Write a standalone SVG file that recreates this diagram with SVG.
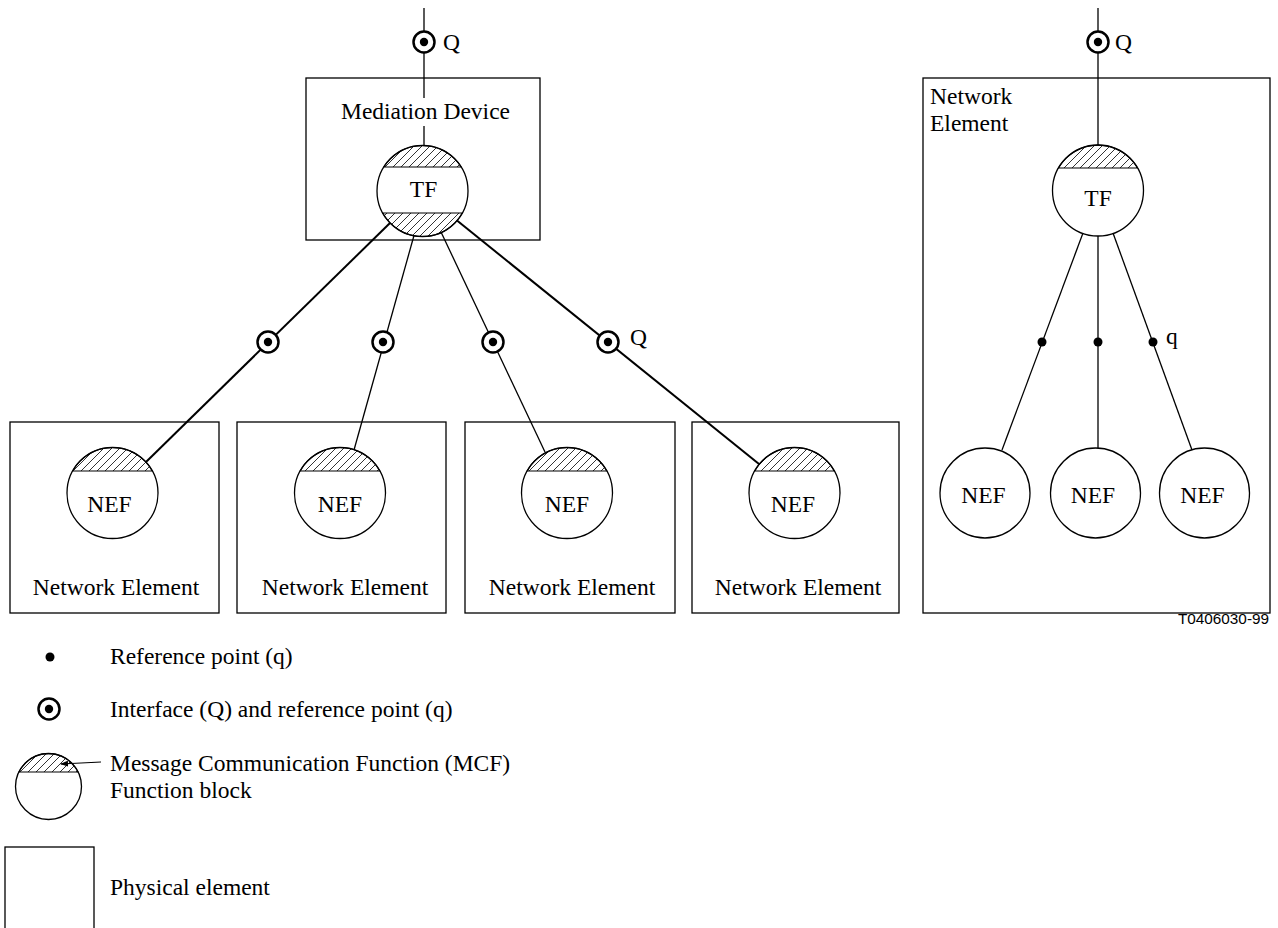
<svg xmlns="http://www.w3.org/2000/svg" width="1278" height="928" viewBox="0 0 1278 928">
  <style>
    .box { fill: none; stroke: #000; stroke-width: 1.3; }
    .fb { fill: #fff; stroke: #000; stroke-width: 1.3; }
    .mcf { fill: url(#hatch); stroke: #000; stroke-width: 1.1; }
    .lnk { fill: none; stroke: #000; stroke-width: 1.3; }
    .lnk2 { fill: none; stroke: #000; stroke-width: 2; }
    .lbl { font-family: "Liberation Serif", "Times New Roman", serif; font-size: 23.5px; fill: #000; }
    .mid { text-anchor: middle; }
    .code { font-family: "Liberation Sans", Arial, sans-serif; font-size: 15.3px; fill: #000; text-anchor: end; }
  </style>
  <defs>
    <pattern id="hatch" patternUnits="userSpaceOnUse" width="8" height="8">
      <path d="M-2,2 L2,-2 M0,8 L8,0 M6,10 L10,6" stroke="#000" stroke-width="0.8"/>
    </pattern>
    <!-- interface Q with reference point q -->
    <g id="iface">
      <circle r="10.5" fill="#fff" stroke="#000" stroke-width="2.5"/>
      <circle r="4.2" fill="#000"/>
    </g>
    <!-- reference point q -->
    <circle id="refpt" r="4.5" fill="#000"/>
    <marker id="tip" markerWidth="8" markerHeight="6" refX="1" refY="3" orient="auto" markerUnits="userSpaceOnUse">
      <path d="M8,0 L0,3 L8,6 Z" fill="#000"/>
    </marker>
  </defs>

  <rect width="1278" height="928" fill="#fff"/>

  <!-- connectors -->
  <g id="connectors">
    <line class="lnk" x1="424" y1="8" x2="424" y2="98"/>
    <line class="lnk" x1="424" y1="126" x2="424" y2="145.5"/>
    <line class="lnk2" x1="390" y1="223" x2="146" y2="462"/>
    <line class="lnk" x1="414" y1="235.5" x2="354" y2="450"/>
    <line class="lnk" x1="441" y1="232" x2="545" y2="452"/>
    <line class="lnk2" x1="457" y1="220.5" x2="759" y2="464"/>
    <line class="lnk" x1="1098" y1="8" x2="1098" y2="145"/>
    <line class="lnk" x1="1083" y1="233" x2="1002" y2="450"/>
    <line class="lnk" x1="1098" y1="236" x2="1098" y2="448"/>
    <line class="lnk" x1="1113" y1="233" x2="1192" y2="450"/>
  </g>

  <!-- interface and reference point symbols -->
  <g id="points">
    <use href="#iface" x="424" y="42"/>
    <use href="#iface" x="1098" y="42"/>
    <use href="#iface" x="268" y="342"/>
    <use href="#iface" x="383" y="342"/>
    <use href="#iface" x="493" y="342"/>
    <use href="#iface" x="608" y="342"/>
    <use href="#refpt" x="1042" y="342"/>
    <use href="#refpt" x="1098" y="342"/>
    <use href="#refpt" x="1153" y="342"/>
    <text class="lbl" x="443" y="50">Q</text>
    <text class="lbl" x="1115" y="50">Q</text>
    <text class="lbl" x="630" y="345">Q</text>
    <text class="lbl" x="1166" y="344">q</text>
  </g>

  <!-- mediation device -->
  <g id="mediation-device">
    <rect class="box" x="306" y="78" width="234" height="162"/>
    <text class="lbl mid" x="425.5" y="119">Mediation Device</text>
    <circle class="fb" cx="422.5" cy="191" r="45.5"/>
    <path class="mcf" d="M383.85,167 A45.5,45.5 0 0 1 461.15,167 Z"/>
    <path class="mcf" d="M382.7,213 A45.5,45.5 0 0 0 462.3,213 Z"/>
    <text class="lbl mid" x="423.5" y="197">TF</text>
  </g>

  <!-- network elements below the mediation device -->
  <g id="ne-1">
    <rect class="box" x="10" y="422" width="209" height="191"/>
    <circle class="fb" cx="112.5" cy="493" r="45.5"/>
    <path class="mcf" d="M72.7,471 A45.5,45.5 0 0 1 152.3,471 Z"/>
    <text class="lbl mid" x="109.5" y="512">NEF</text>
    <text class="lbl mid" x="116" y="595">Network Element</text>
  </g>
  <g id="ne-2">
    <rect class="box" x="237" y="422" width="209" height="191"/>
    <circle class="fb" cx="340" cy="493" r="45.5"/>
    <path class="mcf" d="M300.2,471 A45.5,45.5 0 0 1 379.8,471 Z"/>
    <text class="lbl mid" x="340" y="512">NEF</text>
    <text class="lbl mid" x="345" y="595">Network Element</text>
  </g>
  <g id="ne-3">
    <rect class="box" x="465" y="422" width="210" height="191"/>
    <circle class="fb" cx="567" cy="493" r="45.5"/>
    <path class="mcf" d="M527.2,471 A45.5,45.5 0 0 1 606.8,471 Z"/>
    <text class="lbl mid" x="567" y="512">NEF</text>
    <text class="lbl mid" x="572" y="595">Network Element</text>
  </g>
  <g id="ne-4">
    <rect class="box" x="692" y="422" width="207" height="191"/>
    <circle class="fb" cx="794.5" cy="493" r="45.5"/>
    <path class="mcf" d="M754.7,471 A45.5,45.5 0 0 1 834.3,471 Z"/>
    <text class="lbl mid" x="793" y="512">NEF</text>
    <text class="lbl mid" x="798" y="595">Network Element</text>
  </g>

  <!-- network element with its own translation function -->
  <g id="ne-tf">
    <rect class="box" x="923" y="78" width="347" height="535"/>
    <text class="lbl" x="930" y="104">Network</text>
    <text class="lbl" x="930" y="131">Element</text>
    <circle class="fb" cx="1098" cy="190.5" r="45.5"/>
    <path class="mcf" d="M1058.5,168 A45.5,45.5 0 0 1 1137.5,168 Z"/>
    <text class="lbl mid" x="1098" y="206">TF</text>
  </g>
  <g id="nef-a">
    <circle class="fb" cx="985" cy="493" r="45"/>
    <text class="lbl mid" x="983.5" y="503">NEF</text>
  </g>
  <g id="nef-b">
    <circle class="fb" cx="1095.5" cy="493" r="45"/>
    <text class="lbl mid" x="1093" y="503">NEF</text>
  </g>
  <g id="nef-c">
    <circle class="fb" cx="1204.5" cy="493" r="45"/>
    <text class="lbl mid" x="1202.5" y="503">NEF</text>
  </g>

  <text class="code" x="1269" y="624">T0406030-99</text>

  <!-- key -->
  <g id="legend">
    <use href="#refpt" x="50" y="657"/>
    <text class="lbl" x="110" y="664">Reference point (q)</text>
    <use href="#iface" x="49" y="709"/>
    <text class="lbl" x="110" y="717">Interface (Q) and reference point (q)</text>
    <circle class="fb" cx="48.5" cy="786.5" r="33"/>
    <path class="mcf" d="M18.9,772 A33,33 0 0 1 78.1,772 Z"/>
    <line x1="61" y1="764" x2="101" y2="762" stroke="#000" stroke-width="1.2" marker-start="url(#tip)"/>
    <text class="lbl" x="110" y="771">Message Communication Function (MCF)</text>
    <text class="lbl" x="110" y="798">Function block</text>
    <rect class="box" x="5" y="847" width="89" height="90"/>
    <text class="lbl" x="110" y="895">Physical element</text>
  </g>
</svg>
